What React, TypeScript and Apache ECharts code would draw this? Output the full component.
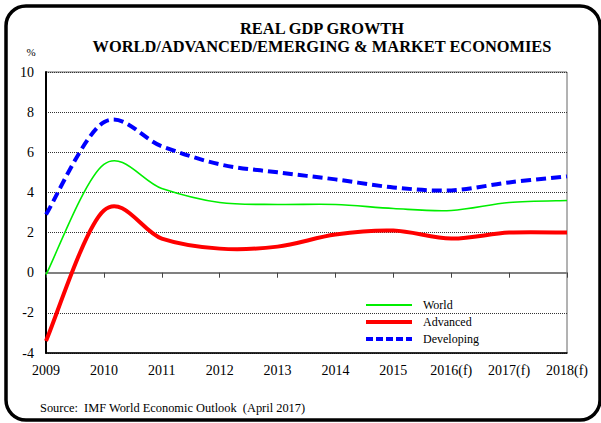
import React, { useEffect, useRef } from "react";
import * as echarts from "echarts";

const categories = ["2009", "2010", "2011", "2012", "2013", "2014", "2015", "2016(f)", "2017(f)", "2018(f)"];
const world = [-0.1, 5.4, 4.2, 3.5, 3.4, 3.4, 3.2, 3.1, 3.5, 3.6];
const advanced = [-3.4, 3.1, 1.7, 1.2, 1.3, 1.9, 2.1, 1.7, 2.0, 2.0];
const developing = [2.9, 7.5, 6.3, 5.4, 5.0, 4.65, 4.25, 4.1, 4.5, 4.8];
const titleLines = ["REAL GDP GROWTH", "WORLD/ADVANCED/EMERGING & MARKET ECONOMIES"];
const sourceText = "Source:  IMF World Economic Outlook  (April 2017)";

const SERIF = "Liberation Serif";

// Excel-like smoothed line (Catmull-Rom -> cubic Bezier), drawn through the axes' own scales.
function smoothRenderer(values: number[], stroke: string, lineWidth: number, lineDash?: number[]) {
  return (params: any, api: any) => {
    if (params.dataIndex !== 0) return null;
    const pts = values.map((v, i) => api.coord([i, v]) as number[]);
    const n = pts.length;
    let d = `M${pts[0][0]},${pts[0][1]}`;
    for (let i = 0; i < n - 1; i++) {
      const p0 = pts[Math.max(i - 1, 0)];
      const p1 = pts[i];
      const p2 = pts[i + 1];
      const p3 = pts[Math.min(i + 2, n - 1)];
      const c1x = p1[0] + (p2[0] - p0[0]) / 6;
      const c1y = p1[1] + (p2[1] - p0[1]) / 6;
      const c2x = p2[0] - (p3[0] - p1[0]) / 6;
      const c2y = p2[1] - (p3[1] - p1[1]) / 6;
      d += ` C${c1x},${c1y} ${c2x},${c2y} ${p2[0]},${p2[1]}`;
    }
    return {
      type: "path",
      shape: { pathData: d },
      style: { fill: "none", stroke, lineWidth, lineDash: lineDash || null },
    };
  };
}

export default function App() {
  const ref = useRef<HTMLDivElement>(null);
  useEffect(() => {
    if (!ref.current) return;
    const chart = echarts.init(ref.current, null, { renderer: "svg" });
    chart.setOption({
      animation: false,
      backgroundColor: "#fff",
      textStyle: { fontFamily: SERIF },
      grid: {
        left: 46,
        right: 34,
        top: 72,
        bottom: 70,
        show: true,
        borderColor: "#666",
        borderWidth: 1,
      },
      legend: {
        left: 361,
        top: 294,
        orient: "vertical",
        itemWidth: 46,
        itemHeight: 12,
        itemGap: 5,
        textStyle: { fontFamily: SERIF, fontSize: 12, color: "#000", padding: [0, 0, 0, 6] },
        data: [
          { name: "World", icon: "path://M0,0h46v2h-46z" },
          { name: "Advanced", icon: "path://M0,0h46v4h-46z" },
          {
            name: "Developing",
            icon: "path://M0,0h7v4h-7zM10,0h7v4h-7zM20,0h7v4h-7zM30,0h7v4h-7zM40,0h6v4h-6z",
          },
        ],
      },
      xAxis: [
        {
          type: "category",
          data: categories,
          boundaryGap: false,
          position: "bottom",
          axisLine: { onZero: false, lineStyle: { color: "#000", width: 1.5 } },
          axisTick: { show: false },
          axisLabel: { color: "#000", fontSize: 14, fontFamily: SERIF, margin: 10, interval: 0 },
          splitLine: { show: false },
        },
        {
          type: "category",
          data: categories,
          boundaryGap: false,
          position: "bottom",
          axisLine: { onZero: true, lineStyle: { color: "#808080", width: 2 } },
          axisTick: { show: true, length: 5, interval: 0, lineStyle: { color: "#444", width: 1 } },
          axisLabel: { show: false },
          splitLine: { show: false },
        },
      ],
      yAxis: {
        type: "value",
        min: -4,
        max: 10,
        interval: 2,
        axisLine: { show: true, lineStyle: { color: "#000", width: 2 } },
        axisTick: { show: false },
        axisLabel: { color: "#000", fontSize: 14, fontFamily: SERIF, margin: 12 },
        splitLine: { show: true, lineStyle: { color: "#333", width: 1, type: [1, 1] } },
      },
      series: [
        {
          name: "World",
          type: "custom",
          data: world.map((v, i) => [i, v]),
          encode: { x: 0, y: 1 },
          itemStyle: { color: "#00ee00" },
          renderItem: smoothRenderer(world, "#00ee00", 1.6),
          z: 3,
        },
        {
          name: "Advanced",
          type: "custom",
          data: advanced.map((v, i) => [i, v]),
          encode: { x: 0, y: 1 },
          itemStyle: { color: "#ff0000" },
          renderItem: smoothRenderer(advanced, "#ff0000", 4),
          z: 4,
        },
        {
          name: "Developing",
          type: "custom",
          data: developing.map((v, i) => [i, v]),
          encode: { x: 0, y: 1 },
          itemStyle: { color: "#0000ff" },
          renderItem: smoothRenderer(developing, "#0000ff", 4, [10, 5]),
          z: 5,
        },
      ],
      graphic: [
        {
          type: "rect",
          shape: { x: 6, y: 6, width: 594, height: 414, r: 20 },
          style: { fill: "none", stroke: "#000", lineWidth: 3.5 },
          silent: true,
        },
        {
          type: "text",
          x: 322,
          y: 28,
          style: {
            text: titleLines[0],
            fontFamily: SERIF,
            fontWeight: "bold",
            fontSize: 16.4,
            fill: "#000",
            align: "center",
            verticalAlign: "middle",
          },
        },
        {
          type: "text",
          x: 322,
          y: 46,
          style: {
            text: titleLines[1],
            fontFamily: SERIF,
            fontWeight: "bold",
            fontSize: 16.4,
            fill: "#000",
            align: "center",
            verticalAlign: "middle",
          },
        },
        {
          type: "text",
          x: 31,
          y: 52,
          style: { text: "%", fontFamily: SERIF, fontSize: 11, fill: "#000", align: "center", verticalAlign: "middle" },
        },
        {
          type: "text",
          x: 40,
          y: 408,
          style: { text: sourceText, fontFamily: SERIF, fontSize: 12.4, fill: "#000", align: "left", verticalAlign: "middle" },
        },
      ],
    });
    return () => chart.dispose();
  }, []);
  return <div ref={ref} style={{ position: "fixed", left: 0, top: 0, width: 601, height: 423 }} />;
}
